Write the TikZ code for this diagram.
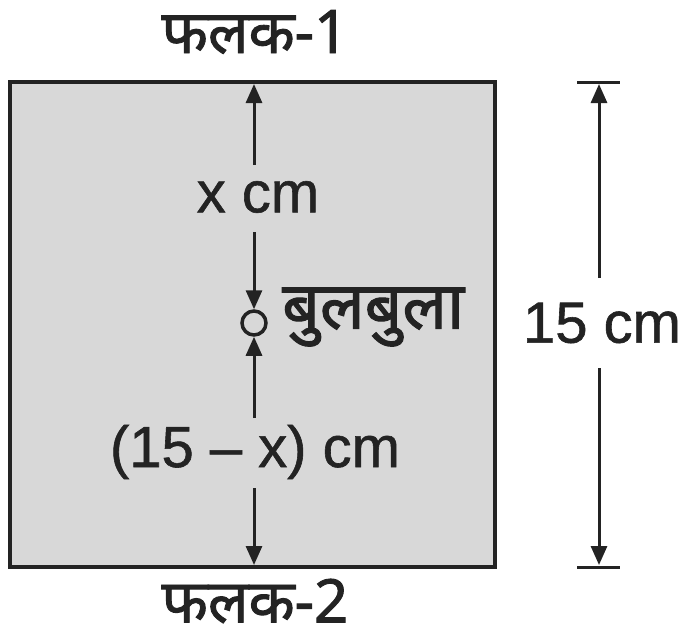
\documentclass[tikz,border=0pt]{standalone}
\usepackage{fontspec}
\setmainfont{Liberation Sans}[UprightFeatures={FakeBold=1.0}]
\newfontfamily\devfont{Noto Sans}[Script=Devanagari, UprightFeatures={FakeBold=1.5}]
\usetikzlibrary{arrows.meta}
\definecolor{panel}{RGB}{216,216,216}
\definecolor{ink}{RGB}{35,35,35}
\tikzset{
  lbl/.style={inner sep=0pt, text=ink, font=\fontsize{58}{62}\selectfont},
  devlbl/.style={inner sep=0pt, text=ink, font=\devfont\fontsize{60}{64}\selectfont},
  dimline/.style={draw=ink, line width=3pt},
  tipped/.style={dimline, -{Triangle[length=19pt,width=16pt]}},
}
\begin{document}
\begin{tikzpicture}[x=1pt,y=-1pt]
\useasboundingbox (0,0) rectangle (682,640);
% panel
\draw[fill=panel, draw=ink, line width=4.5pt] (10,82) rectangle (495,567);
% coordinates
\coordinate (topE) at (254,84);
\coordinate (botE) at (254,565);
\node[lbl] (xcm) at (258,197) {x cm};
\node[draw=ink, line width=3.5pt, circle, minimum size=24pt, inner sep=0pt, fill=panel] (bub) at (254,323) {};
\node[devlbl, anchor=west, font=\devfont\fontsize{66}{70}\selectfont] (bublbl) at (282,317) {बुलबुला};
\node[lbl] (rest) at (255,452) {(15 – x) cm};
\coordinate (a1) at (254,165);
\coordinate (a2) at (254,232);
\coordinate (a3) at (254,418);
\coordinate (a4) at (254,488);
\draw[tipped] (a1) -- (topE);
\draw[tipped] (a2) -- (bub.north);
\draw[tipped] (a3) -- (bub.south);
\draw[tipped] (a4) -- (botE);
% labels
\node[devlbl] (f1) at (255,32) {फलक-1};
\node[devlbl] (f2) at (255,601) {फलक-2};
% right dimension
\coordinate (tL) at (577,82);
\coordinate (tR) at (620,82);
\coordinate (bL) at (577,567);
\coordinate (bR) at (620,567);
\coordinate (tM) at (599,84);
\coordinate (bM) at (599,565);
\draw[dimline] (tL) -- (tR);
\draw[dimline] (bL) -- (bR);
\node[lbl] (fifteen) at (602,323) {15 cm};
\coordinate (d1) at (599,278);
\coordinate (d2) at (599,368);
\draw[tipped] (d1) -- (tM);
\draw[tipped] (d2) -- (bM);
\end{tikzpicture}
\end{document}
